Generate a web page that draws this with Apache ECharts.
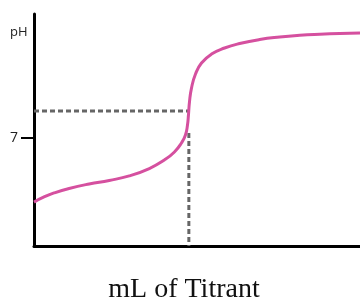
<!DOCTYPE html>
<html>
<head>
<meta charset="utf-8">
<script src="https://cdn.jsdelivr.net/npm/echarts@6/dist/echarts.min.js"></script>
<style>
  html, body { margin: 0; padding: 0; background: #fff; }
  #chart { width: 360px; height: 305px; }
</style>
</head>
<body>
<div id="chart"></div>
<script>
// titration curve: mL of titrant vs pH
const volume = [0, 3.08, 6.15, 10.77, 16.92, 23.08, 29.23, 35.38, 40.0, 43.08, 45.23, 46.46, 47.08, 47.38, 47.69, 48.31, 49.54, 51.38, 54.46, 58.46, 63.08, 69.23, 75.38, 81.54, 87.69, 93.85, 100];
const ph = [2.84, 3.17, 3.43, 3.72, 4.01, 4.24, 4.53, 5.01, 5.56, 6.08, 6.66, 7.18, 7.82, 8.47, 9.31, 10.21, 11.12, 11.83, 12.41, 12.80, 13.09, 13.35, 13.51, 13.62, 13.69, 13.74, 13.77];
const eqVolume = 47.5;
const eqPh = 8.73;
const yTicks = [7];

const chart = echarts.init(document.getElementById("chart"));

const dashStyle = { color: "#666", width: 3, type: [5, 3] };

chart.setOption({
  animation: false,
  grid: { left: 34, right: 0, top: 14, bottom: 59 },
  xAxis: {
    type: "value",
    min: 0,
    max: 100,
    axisLine: { lineStyle: { color: "#000", width: 3 } },
    axisTick: { show: false },
    axisLabel: { show: false },
    splitLine: { show: false },
  },
  yAxis: {
    type: "value",
    min: 0,
    max: 15,
    axisLine: { show: true, lineStyle: { color: "#000", width: 3 } },
    axisTick: { show: true, customValues: yTicks, length: 13, lineStyle: { color: "#000", width: 2 } },
    axisLabel: { customValues: yTicks, margin: 16, color: "#222", fontSize: 14, fontFamily: "Open Sans" },
    splitLine: { show: false },
  },
  graphic: [
    {
      type: "text",
      left: 10,
      top: 26,
      style: { text: "pH", fontSize: 13, fill: "#222", fontFamily: "Open Sans" },
    },
    {
      type: "text",
      x: 184,
      y: 290,
      style: {
        text: "mL of Titrant",
        fontSize: 28,
        fill: "#111",
        fontFamily: "Liberation Serif",
        align: "center",
        verticalAlign: "middle",
      },
    },
  ],
  series: [
    {
      type: "line",
      data: [[0, eqPh], [eqVolume, eqPh]],
      symbol: "none",
      lineStyle: dashStyle,
      z: 1,
    },
    {
      type: "line",
      data: [[eqVolume, 7.3], [eqVolume, 0]],
      symbol: "none",
      lineStyle: dashStyle,
      z: 1,
    },
    {
      type: "line",
      data: volume.map((v, i) => [v, ph[i]]),
      smooth: 0.5,
      symbol: "none",
      lineStyle: { color: "#d5509f", width: 3 },
      z: 3,
    },
  ],
});
</script>
</body>
</html>
